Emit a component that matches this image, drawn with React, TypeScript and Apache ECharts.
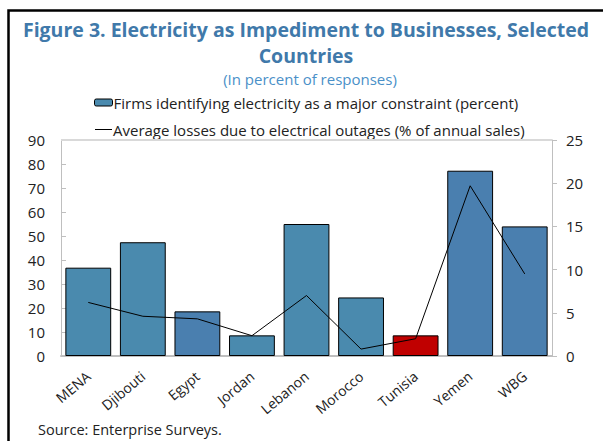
import React, { useEffect, useRef } from "react";
import * as echarts from "echarts";

const categories = ["MENA", "Djibouti", "Egypt", "Jordan", "Lebanon", "Morocco", "Tunisia", "Yemen", "WBG"];
const firmsConstraint = [36.8, 47.4, 18.6, 8.6, 55, 24.4, 8.6, 77.2, 54];
const avgLosses = [6.2, 4.6, 4.3, 2.35, 7.0, 0.8, 2.0, 19.7, 9.5];
const barColors = ["#4A8AAE", "#4A8AAE", "#4A7FAF", "#4A8AAE", "#4A8AAE", "#4A8AAE", "#C00000", "#4A7FAF", "#4A7FAF"];
const leftTicks = { min: 0, max: 90, interval: 10 };
const rightTicks = { min: 0, max: 25, interval: 5 };

const FONT = "'Open Sans', 'Noto Sans', sans-serif";
const barName = "Firms identifying electricity as a major constraint (percent)";
const lineName = "Average losses due to electrical outages (% of annual sales)";

export default function App() {
  const ref = useRef<HTMLDivElement>(null);
  useEffect(() => {
    if (!ref.current) return;
    const chart = echarts.init(ref.current, undefined, { renderer: "svg" });
    chart.setOption({
      animation: false,
      backgroundColor: "#fff",
      textStyle: { fontFamily: FONT },
      graphic: [
        {
          type: "rect",
          shape: { x: 8.5, y: 10.5, width: 640, height: 480 },
          style: { fill: "none", stroke: "#000", lineWidth: 2.5 },
          z: -1,
        },
        {
          type: "text",
          x: 306,
          y: 16,
          style: {
            text: "Figure 3. Electricity as Impediment to Businesses, Selected\nCountries",
            font: `bold 19.5px ${FONT}`,
            fill: "#4079AA",
            align: "center",
            verticalAlign: "top",
            lineHeight: 26,
          },
        },
        {
          type: "text",
          x: 310,
          y: 71,
          style: { text: "(In percent of responses)", font: `15px ${FONT}`, fill: "#4A90C8", align: "center", verticalAlign: "top" },
        },
        {
          type: "text",
          x: 38,
          y: 422,
          style: { text: "Source: Enterprise Surveys.", font: `14.5px ${FONT}`, fill: "#222", verticalAlign: "top" },
        },
      ],
      legend: [
        {
          data: [{ name: barName, itemStyle: { color: "#4A8AAE", borderColor: "#000", borderWidth: 1 } }],
          left: 89,
          top: 90,
          itemWidth: 18,
          itemHeight: 7,
          textStyle: { fontSize: 15, color: "#222", fontFamily: FONT, padding: [0, 0, 0, -4] },
        },
        {
          data: [{ name: lineName, icon: "rect", itemStyle: { color: "#000" } }],
          left: 90,
          top: 117,
          itemWidth: 17,
          itemHeight: 1,
          textStyle: { fontSize: 15, color: "#222", fontFamily: FONT, padding: [0, 0, 0, -4] },
        },
      ],
      grid: { left: 61, right: 51, top: 140, height: 216 },
      xAxis: {
        type: "category",
        data: categories,
        axisLine: { lineStyle: { color: "#BFBFBF", width: 2 } },
        axisTick: { inside: true, length: 5, lineStyle: { color: "#BFBFBF" } },
        axisLabel: { rotate: 40, fontSize: 14, color: "#222", margin: 18, fontFamily: FONT },
      },
      yAxis: [
        {
          type: "value",
          ...leftTicks,
          position: "left",
          axisLine: { show: true, lineStyle: { color: "#BFBFBF", width: 1 } },
          axisTick: { show: true, inside: true, length: 5, lineStyle: { color: "#BFBFBF" } },
          axisLabel: { fontSize: 15, color: "#222", margin: 16, fontFamily: FONT },
          splitLine: { show: false },
        },
        {
          type: "value",
          ...rightTicks,
          position: "right",
          axisLine: { show: true, lineStyle: { color: "#BFBFBF", width: 1 } },
          axisTick: { show: true, inside: false, length: 5, lineStyle: { color: "#BFBFBF" } },
          axisLabel: { fontSize: 15, color: "#222", margin: 14, fontFamily: FONT },
          splitLine: { show: false },
        },
      ],
      series: [
        {
          name: barName,
          type: "bar",
          yAxisIndex: 0,
          barCategoryGap: "16%",
          data: firmsConstraint.map((v, i) => ({
            value: v,
            itemStyle: { color: barColors[i], borderColor: "#000", borderWidth: 1 },
          })),
          itemStyle: { color: "#4A8AAE" },
        },
        {
          name: lineName,
          type: "line",
          yAxisIndex: 1,
          data: avgLosses,
          symbol: "none",
          lineStyle: { color: "#000", width: 1 },
          itemStyle: { color: "#000" },
          z: 5,
        },
        {
          type: "line",
          yAxisIndex: 0,
          data: [],
          markLine: {
            silent: true,
            symbol: "none",
            label: { show: false },
            lineStyle: { color: "#D9D9D9", type: "solid", width: 2 },
            data: [{ yAxis: leftTicks.max }],
          },
        },
      ],
    });
    return () => chart.dispose();
  }, []);
  return <div ref={ref} style={{ position: "fixed", left: 0, top: 0, width: 603, height: 441 }} />;
}
